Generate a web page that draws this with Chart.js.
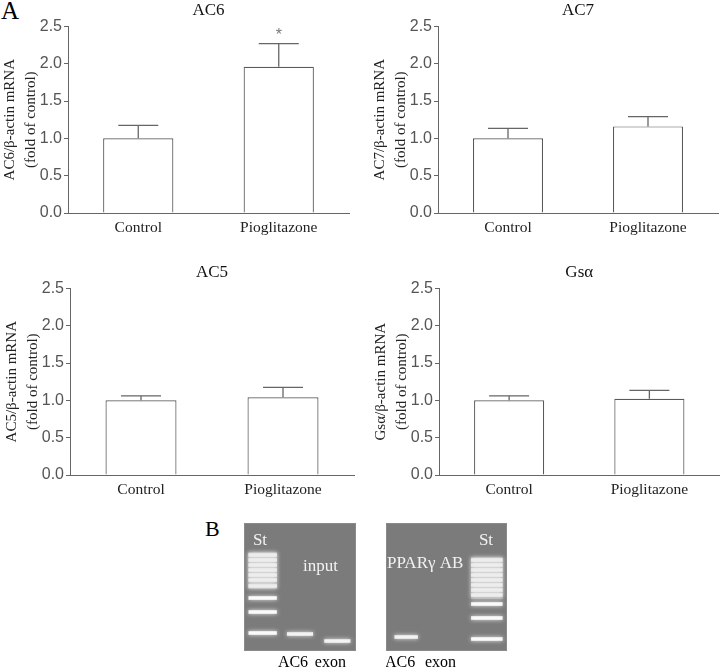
<!DOCTYPE html>
<html><head><meta charset="utf-8">
<script src="https://cdn.jsdelivr.net/npm/chart.js@4"></script>
<style>
body{margin:0;background:#fff;width:720px;height:669px;position:relative;overflow:hidden}
.c{position:absolute}
.lab{position:absolute;font-family:"Liberation Serif",serif;line-height:1;color:#000}
</style></head><body>
<div class="lab" style="left:1px;top:-2px;font-size:25px">A</div>
<div class="lab" style="left:205px;top:517.6px;font-size:22px">B</div>
<div class="c" style="left:0px;top:0px;width:352px;height:240px"><canvas id="ac6"></canvas></div>
<div class="c" style="left:370px;top:0px;width:350px;height:240px"><canvas id="ac7"></canvas></div>
<div class="c" style="left:2px;top:262px;width:354px;height:240px"><canvas id="ac5"></canvas></div>
<div class="c" style="left:371px;top:262px;width:349px;height:240px"><canvas id="gs"></canvas></div>
<div class="c" style="left:244px;top:523px;width:112px;height:146px"><canvas id="gel1"></canvas></div>
<div class="c" style="left:386px;top:523px;width:121px;height:146px"><canvas id="gel2"></canvas></div>
<script>
// ---- data ----
const groups = ['Control', 'Pioglitazone'];
const ac6Mean = [1.00, 1.96];
const ac6Sem  = [0.175, 0.31];
const ac6Sig  = ['', '*'];
const ac7Mean = [1.00, 1.16];
const ac7Sem  = [0.135, 0.13];
const ac5Mean = [1.00, 1.04];
const ac5Sem  = [0.06, 0.135];
const gsMean  = [1.00, 1.02];
const gsSem   = [0.06, 0.115];
const noSig   = ['', ''];
const yMin = 0, yMax = 2.5, yStep = 0.5;

// gel data: band migration (px from gel top), lanes
const gel1Lanes = ['St', 'AC6', 'exon'];
const gel1Ladder = [32, 37, 42, 47, 52, 57, 63, 75, 89, 110];
const gel1Smear = [29, 66];
const gel1Samples = [null, 111, 118];
const gel2Lanes = ['AC6', 'exon', 'St'];
const gel2Ladder = [37, 42, 47, 52, 57, 62, 67, 72, 81, 95, 116];
const gel2Smear = [34, 76];
const gel2Samples = [114, null, null];

const serif = '"Liberation Serif", "Times New Roman", serif';
const sans = '"Liberation Sans", Arial, sans-serif';
const lineCol = '#666';

const errorBars = {
  id: 'errorBars',
  afterDatasetsDraw(chart, args, opts) {
    const ctx = chart.ctx, ys = chart.scales.y;
    const meta = chart.getDatasetMeta(0);
    ctx.save();
    ctx.strokeStyle = lineCol; ctx.lineWidth = 1.3;
    meta.data.forEach((bar, i) => {
      const v = opts.mean[i], e = opts.sem[i];
      const y0 = ys.getPixelForValue(v), y1 = ys.getPixelForValue(v + e);
      ctx.beginPath();
      ctx.moveTo(bar.x, y0); ctx.lineTo(bar.x, y1);
      ctx.moveTo(bar.x - 20, y1); ctx.lineTo(bar.x + 20, y1);
      ctx.stroke();
      if (opts.sig[i]) {
        ctx.fillStyle = '#777';
        ctx.font = '16px ' + sans;
        ctx.textAlign = 'center'; ctx.textBaseline = 'alphabetic';
        ctx.fillText(opts.sig[i], bar.x, y1 - 4);
      }
    });
    ctx.restore();
  }
};

function barChart(id, title, yTitle, mean, sem, sig, padRight) {
  new Chart(document.getElementById(id), {
    type: 'bar',
    data: { labels: groups, datasets: [{ data: mean, backgroundColor: '#fff', borderColor: '#5a5a5a', borderWidth: 1.2, barPercentage: 0.5, categoryPercentage: 1 }] },
    options: {
      responsive: true, maintainAspectRatio: false, animation: false,
      layout: { padding: { left: 0, right: padRight, top: 0, bottom: 0 } },
      plugins: {
        legend: { display: false }, tooltip: { enabled: false },
        title: { display: true, text: title, fullSize: false, color: '#111', font: { family: serif, size: 17, weight: 'normal', lineHeight: 1.2 }, padding: { top: 0, bottom: 6 } },
        errorBars: { mean, sem, sig }
      },
      scales: {
        x: {
          grid: { display: false, drawTicks: false },
          border: { display: true, color: lineCol, width: 1 },
          ticks: { color: '#222', font: { family: serif, size: 15.5 }, padding: 6 },
          afterFit(s) { s.height = 27; }
        },
        y: {
          min: yMin, max: yMax,
          grid: { drawOnChartArea: false, drawTicks: true, tickLength: 4, color: lineCol },
          border: { display: true, color: lineCol, width: 1 },
          ticks: { stepSize: yStep, color: '#555', font: { family: sans, size: 16 }, padding: 2, callback: v => Number(v).toFixed(1) },
          title: { display: true, text: yTitle, color: '#222', font: { family: serif, size: 15, lineHeight: 1.4 }, padding: { top: 0, bottom: 0 } },
          afterFit(s) { s.width = 68; }
        }
      }
    },
    plugins: [errorBars]
  });
}

barChart('ac6', 'AC6', ['AC6/β-actin mRNA', '(fold of control)'], ac6Mean, ac6Sem, ac6Sig, 3);
barChart('ac7', 'AC7', ['AC7/β-actin mRNA', '(fold of control)'], ac7Mean, ac7Sem, noSig, 2);
barChart('ac5', 'AC5', ['AC5/β-actin mRNA', '(fold of control)'], ac5Mean, ac5Sem, noSig, 2);
barChart('gs', 'Gsα', ['Gsα/β-actin mRNA', '(fold of control)'], gsMean, gsSem, noSig, 0.5);

// ---- gels ----
const gelBg = {
  id: 'gelBg',
  beforeDatasetsDraw(chart) {
    const { ctx, chartArea: a } = chart;
    ctx.save();
    ctx.fillStyle = '#7b7b7b';
    ctx.fillRect(a.left, a.top, a.right - a.left, a.bottom - a.top);
    ctx.strokeStyle = '#8a8a8a'; ctx.lineWidth = 1;
    ctx.strokeRect(a.left + 0.5, a.top + 0.5, a.right - a.left - 1, a.bottom - a.top - 1);
    ctx.restore();
    ctx.shadowColor = 'rgba(255,255,255,0.85)';
    ctx.shadowBlur = 4;
  },
  afterDatasetsDraw(chart, args, opts) {
    const ctx = chart.ctx, a = chart.chartArea;
    ctx.shadowColor = 'transparent'; ctx.shadowBlur = 0;
    ctx.save();
    ctx.fillStyle = '#f2f2f2';
    ctx.font = '17px ' + serif;
    ctx.textBaseline = 'alphabetic';
    opts.labels.forEach(l => {
      ctx.textAlign = l.align;
      ctx.fillText(l.text, a.left + l.x, a.top + l.y);
    });
    ctx.restore();
  }
};

function gelChart(id, lanes, ladder, smear, samples, ladderLane, ladderPct, samplePct, labels, labelOffset) {
  const datasets = [{
    data: lanes.map((_, i) => i === ladderLane ? smear : null),
    backgroundColor: 'rgba(215,215,215,0.4)', borderWidth: 0, grouped: false,
    barPercentage: ladderPct, categoryPercentage: 1
  }];
  ladder.forEach(c => datasets.push({
    data: lanes.map((_, i) => i === ladderLane ? [c - 1.8, c + 1.8] : null),
    backgroundColor: 'rgba(252,252,252,0.97)', borderWidth: 0, grouped: false,
    barPercentage: ladderPct, categoryPercentage: 1
  }));
  datasets.push({
    data: samples.map(c => c === null ? null : [c - 1.8, c + 1.8]),
    backgroundColor: 'rgba(245,245,245,0.95)', borderWidth: 0, grouped: false,
    barPercentage: samplePct, categoryPercentage: 1
  });
  new Chart(document.getElementById(id), {
    type: 'bar',
    data: { labels: lanes, datasets },
    options: {
      responsive: true, maintainAspectRatio: false, animation: false,
      layout: { padding: 0 },
      plugins: { legend: { display: false }, tooltip: { enabled: false }, gelBg: { labels } },
      scales: {
        x: {
          grid: { display: false, drawTicks: false }, border: { display: false },
          ticks: { color: '#000', font: { family: serif, size: 16 }, padding: 2, labelOffset,
                   callback: function(v) { const l = this.getLabelForValue(v); return l === 'St' ? '' : l; } },
          afterFit(s) { s.height = 18; }
        },
        y: { display: false, min: 0, max: 128, reverse: true }
      }
    },
    plugins: [gelBg]
  });
}

gelChart('gel1', gel1Lanes, gel1Ladder, gel1Smear, gel1Samples, 0, 0.76, 0.7,
  [{ text: 'St', x: 16, y: 22, align: 'center' }, { text: 'input', x: 59, y: 48, align: 'left' }], -7);
gelChart('gel2', gel2Lanes, gel2Ladder, gel2Smear, gel2Samples, 2, 0.78, 0.58,
  [{ text: 'PPARγ AB', x: 1, y: 45, align: 'left' }, { text: 'St', x: 100, y: 22, align: 'center' }], -6);
</script>
</body></html>
